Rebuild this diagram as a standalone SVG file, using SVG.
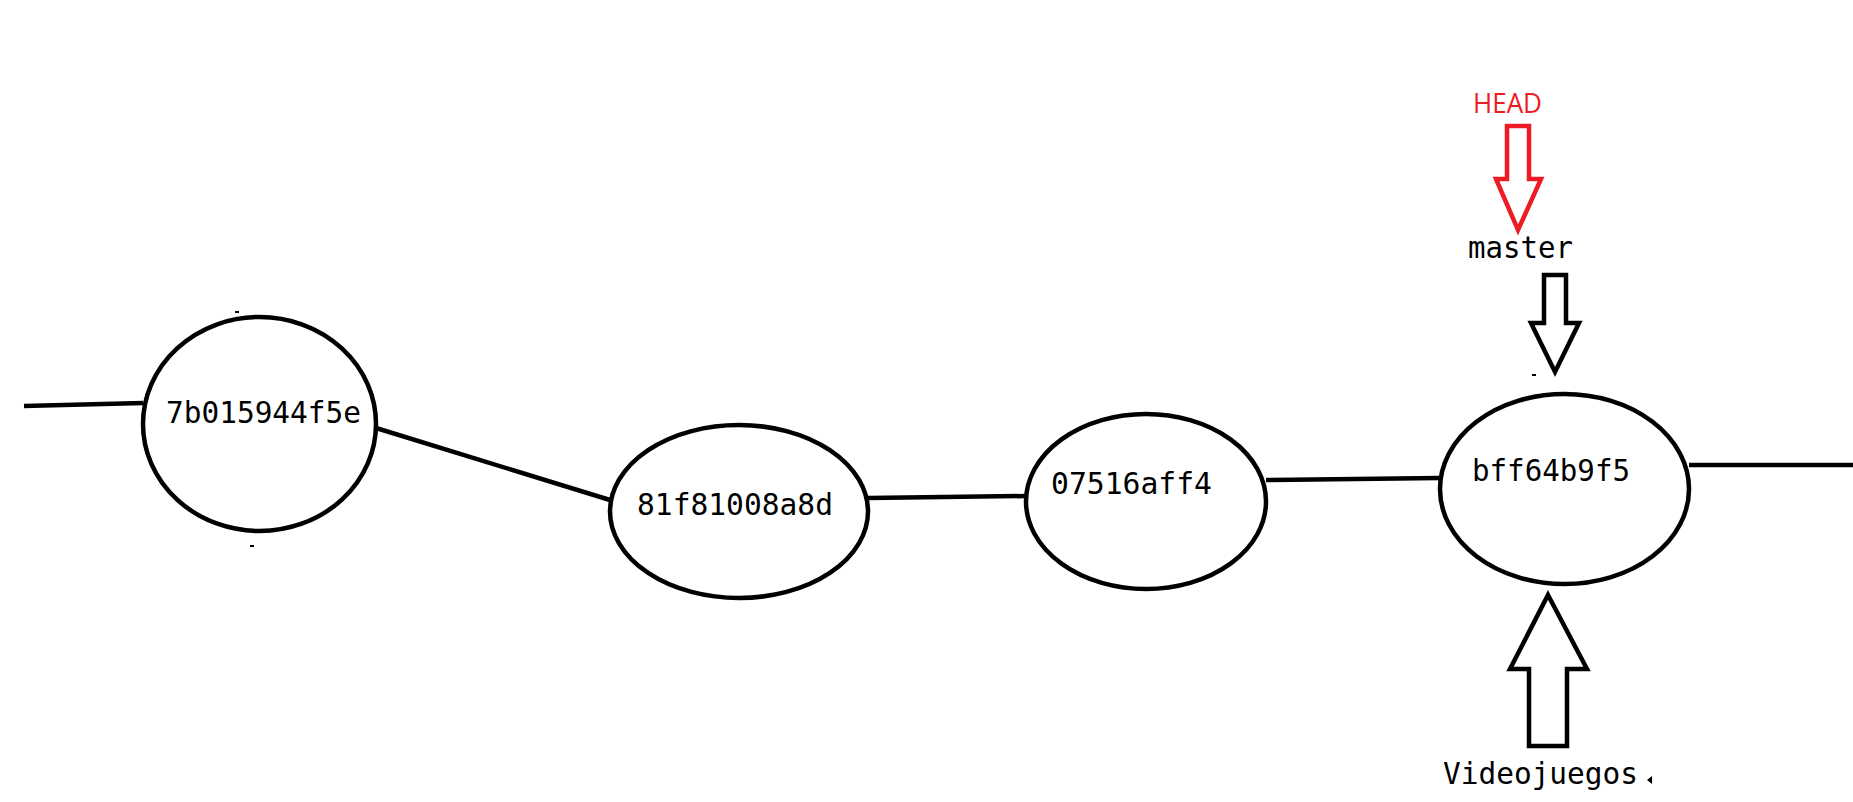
<svg xmlns="http://www.w3.org/2000/svg" width="1853" height="802" viewBox="0 0 1853 802">
<style>
  .node { fill: #ffffff; stroke: #000000; stroke-width: 4.5; }
  .edge { stroke: #000000; stroke-width: 4.5; fill: none; stroke-linecap: butt; }
  .lbl { font-family: "DejaVu Sans Mono", "Liberation Mono", monospace; font-size: 30px; fill: #000000; }
  .arrow { fill: #ffffff; stroke: #000000; stroke-width: 4.5; stroke-linejoin: miter; }
  .head { fill: #ffffff; stroke: #ED1C24; stroke-width: 4.5; stroke-linejoin: miter; }
  .headtxt { font-family: "Open Sans", "Noto Sans", "Liberation Sans", sans-serif; font-size: 28px; fill: #ED1C24; }
</style>
<rect x="0" y="0" width="1853" height="802" fill="#ffffff"/>
<g id="connectors">
  <line class="edge" x1="24" y1="406" x2="143" y2="403"/>
  <line class="edge" x1="376" y1="428" x2="610" y2="500"/>
  <line class="edge" x1="868" y1="498" x2="1026" y2="496"/>
  <line class="edge" x1="1266" y1="480" x2="1440" y2="478"/>
  <line class="edge" x1="1689" y1="465" x2="1853" y2="465"/>
</g>
<g id="node-7b015944f5e">
  <ellipse class="node" cx="259.5" cy="424" rx="116.5" ry="107"/>
  <text class="lbl" x="166" y="423" textLength="195" lengthAdjust="spacingAndGlyphs">7b015944f5e</text>
</g>
<g id="node-81f81008a8d">
  <ellipse class="node" cx="739" cy="511.5" rx="129" ry="86.5"/>
  <text class="lbl" x="637" y="515" textLength="196" lengthAdjust="spacingAndGlyphs">81f81008a8d</text>
</g>
<g id="node-07516aff4">
  <ellipse class="node" cx="1146" cy="501.5" rx="120" ry="87.5"/>
  <text class="lbl" x="1051" y="494" textLength="161" lengthAdjust="spacingAndGlyphs">07516aff4</text>
</g>
<g id="node-bff64b9f5">
  <ellipse class="node" cx="1564.5" cy="489" rx="124.5" ry="95"/>
  <text class="lbl" x="1472" y="481" textLength="158" lengthAdjust="spacingAndGlyphs">bff64b9f5</text>
</g>
<g id="ref-head">
  <text class="headtxt" x="1473" y="113" textLength="69" lengthAdjust="spacingAndGlyphs">HEAD</text>
  <polygon class="head" points="1507,126 1529,126 1529,179 1541,179 1518,230 1496,179 1507,179"/>
</g>
<g id="ref-master">
  <text class="lbl" x="1468" y="258" textLength="105" lengthAdjust="spacingAndGlyphs">master</text>
  <polygon class="arrow" points="1544,275 1566,275 1566,323 1579,323 1555,372 1531,323 1544,323"/>
</g>
<g id="ref-videojuegos">
  <polygon class="arrow" points="1548,595 1587,669 1567,669 1567,746 1529,746 1529,669 1510,669"/>
  <text class="lbl" x="1443" y="784" textLength="195" lengthAdjust="spacingAndGlyphs">Videojuegos</text>
  <polygon points="1647,780 1652,776 1652,784" fill="#000000"/>
</g>
<g id="specks" fill="#000000">
  <rect x="235" y="311" width="4" height="2"/>
  <rect x="250" y="545" width="4" height="2"/>
  <rect x="1532" y="374" width="4" height="2"/>
</g>
</svg>
